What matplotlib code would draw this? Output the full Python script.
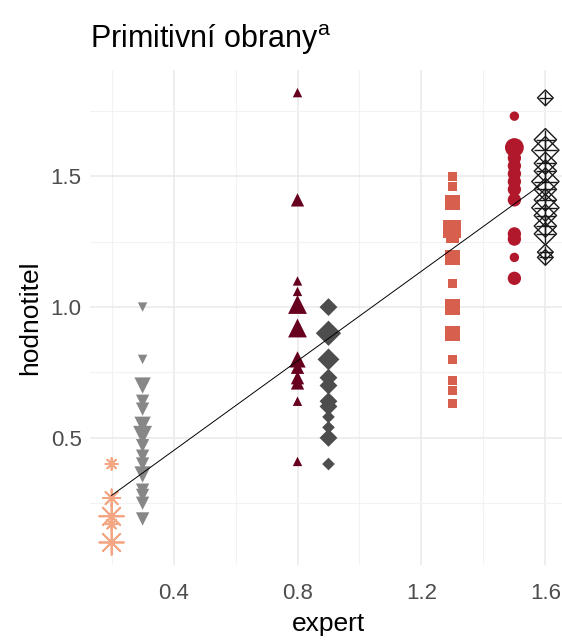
import numpy as np
import matplotlib
matplotlib.use('Agg')
import matplotlib.pyplot as plt
from matplotlib.ticker import MultipleLocator

plt.rcParams['font.family'] = ['Liberation Sans', 'DejaVu Sans']
plt.rcParams['mathtext.fontset'] = 'custom'
plt.rcParams['mathtext.rm'] = 'Liberation Sans'

# hodnoty: (expert, hodnotitel, počet)
x_02 = 0.2
y_02 = [0.40, 0.27, 0.20, 0.17, 0.10]
n_02 = [1, 2, 4, 1, 4]

x_03 = 0.3
y_03 = [1.00, 0.80, 0.70, 0.64, 0.61, 0.55, 0.51, 0.47, 0.43, 0.40, 0.36, 0.30, 0.28, 0.25, 0.19]
n_03 = [1, 1, 3, 2, 2, 3, 4, 2, 2, 2, 3, 2, 2, 2, 2]

x_08 = 0.8
y_08 = [1.82, 1.41, 1.10, 1.06, 1.01, 0.92, 0.80, 0.77, 0.73, 0.71, 0.64, 0.41]
n_08 = [1, 2, 1, 1, 4, 4, 3, 2, 2, 2, 1, 1]

x_09 = 0.9
y_09 = [1.00, 0.90, 0.80, 0.73, 0.70, 0.64, 0.62, 0.58, 0.54, 0.50, 0.40]
n_09 = [2, 4, 3, 2, 2, 2, 2, 1, 1, 2, 1]

x_13 = 1.3
y_13 = [1.50, 1.46, 1.40, 1.30, 1.27, 1.19, 1.09, 1.00, 0.90, 0.80, 0.72, 0.68, 0.63]
n_13 = [1, 1, 3, 4, 2, 3, 1, 3, 3, 1, 1, 1, 1]

x_15 = 1.5
y_15 = [1.73, 1.61, 1.57, 1.54, 1.51, 1.48, 1.45, 1.41, 1.28, 1.26, 1.19, 1.11]
n_15 = [1, 4, 2, 2, 2, 2, 2, 2, 2, 2, 1, 2]

x_16 = 1.6
y_16 = [1.80, 1.64, 1.60, 1.55, 1.52, 1.48, 1.45, 1.41, 1.38, 1.35, 1.31, 1.28, 1.21, 1.19]
n_16 = [1, 2, 3, 2, 2, 3, 2, 2, 3, 2, 2, 2, 1, 1]

# regresní přímka
line_x = [0.2, 1.6]
line_y = [0.28, 1.48]

skupiny = [
    (x_02, y_02, n_02, '#F4A582', 'asterisk'),
    (x_03, y_03, n_03, '#878787', 'v'),
    (x_08, y_08, n_08, '#67001F', '^'),
    (x_09, y_09, n_09, '#4D4D4D', 'D'),
    (x_13, y_13, n_13, '#D6604D', 's'),
    (x_15, y_15, n_15, '#B2182B', 'o'),
    (x_16, y_16, n_16, '#1A1A1A', 'diamondplus'),
]

fig = plt.figure(figsize=(5.62, 6.41), dpi=100)
ax = fig.add_axes([0.160, 0.1186, 0.849, 0.772])

base = 46
for x, ys, ns, col, shape in skupiny:
    xs = np.full(len(ys), x)
    s = base * np.array(ns)
    if shape == 'asterisk':
        ax.scatter(xs, ys, s=s * 1.7, marker=(8, 2, 0), color=col, linewidths=1.3, zorder=3)
    elif shape == 'diamondplus':
        ax.scatter(xs, ys, s=s * 1.4, marker='D', facecolors='none', edgecolors=col, linewidths=1.0, zorder=3)
        ax.scatter(xs, ys, s=s * 2.0, marker='+', color=col, linewidths=1.0, zorder=3)
    elif shape == 'D':
        ax.scatter(xs, ys, s=s * 0.9, marker='D', color=col, linewidths=0, zorder=3)
    elif shape == 's':
        ax.scatter(xs, ys, s=s * 0.9, marker='s', color=col, linewidths=0, zorder=3)
    else:
        ax.scatter(xs, ys, s=s, marker=shape, color=col, linewidths=0, zorder=3)

ax.plot(line_x, line_y, color='black', lw=0.7, zorder=4)

all_x = np.array([g[0] for g in skupiny])
all_y = np.concatenate([g[1] for g in skupiny])
xr = all_x.max() - all_x.min()
yr = all_y.max() - all_y.min()
ax.set_xlim(all_x.min() - 0.05 * xr, all_x.max() + 0.05 * xr)
ax.set_ylim(all_y.min() - 0.05 * yr, all_y.max() + 0.05 * yr)

ax.xaxis.set_major_locator(MultipleLocator(0.4))
ax.xaxis.set_minor_locator(MultipleLocator(0.2))
ax.yaxis.set_major_locator(MultipleLocator(0.5))
ax.yaxis.set_minor_locator(MultipleLocator(0.25))
ax.set_xticks([0.4, 0.8, 1.2, 1.6])
ax.set_xticklabels(['0.4', '0.8', '1.2', '1.6'])
ax.set_yticks([0.5, 1.0, 1.5])
ax.set_yticklabels(['0.5', '1.0', '1.5'])

ax.grid(which='major', color='#EBEBEB', lw=1.2)
ax.grid(which='minor', color='#F2F2F2', lw=0.8)
ax.set_axisbelow(True)
for sp in ax.spines.values():
    sp.set_visible(False)
ax.tick_params(axis='both', which='both', length=0, labelsize=16, labelcolor='#4D4D4D')
ax.tick_params(axis='x', pad=13)
ax.tick_params(axis='y', pad=6)

ax.set_xlabel('expert', fontsize=19, labelpad=6)
ax.set_ylabel('hodnotitel', fontsize=19, labelpad=6)
fig.text(0.160, 0.925, r'Primitivní obrany$^{\mathrm{a}}$', fontsize=22, ha='left', va='baseline')

plt.savefig('out.png', dpi=100)
plt.close()
